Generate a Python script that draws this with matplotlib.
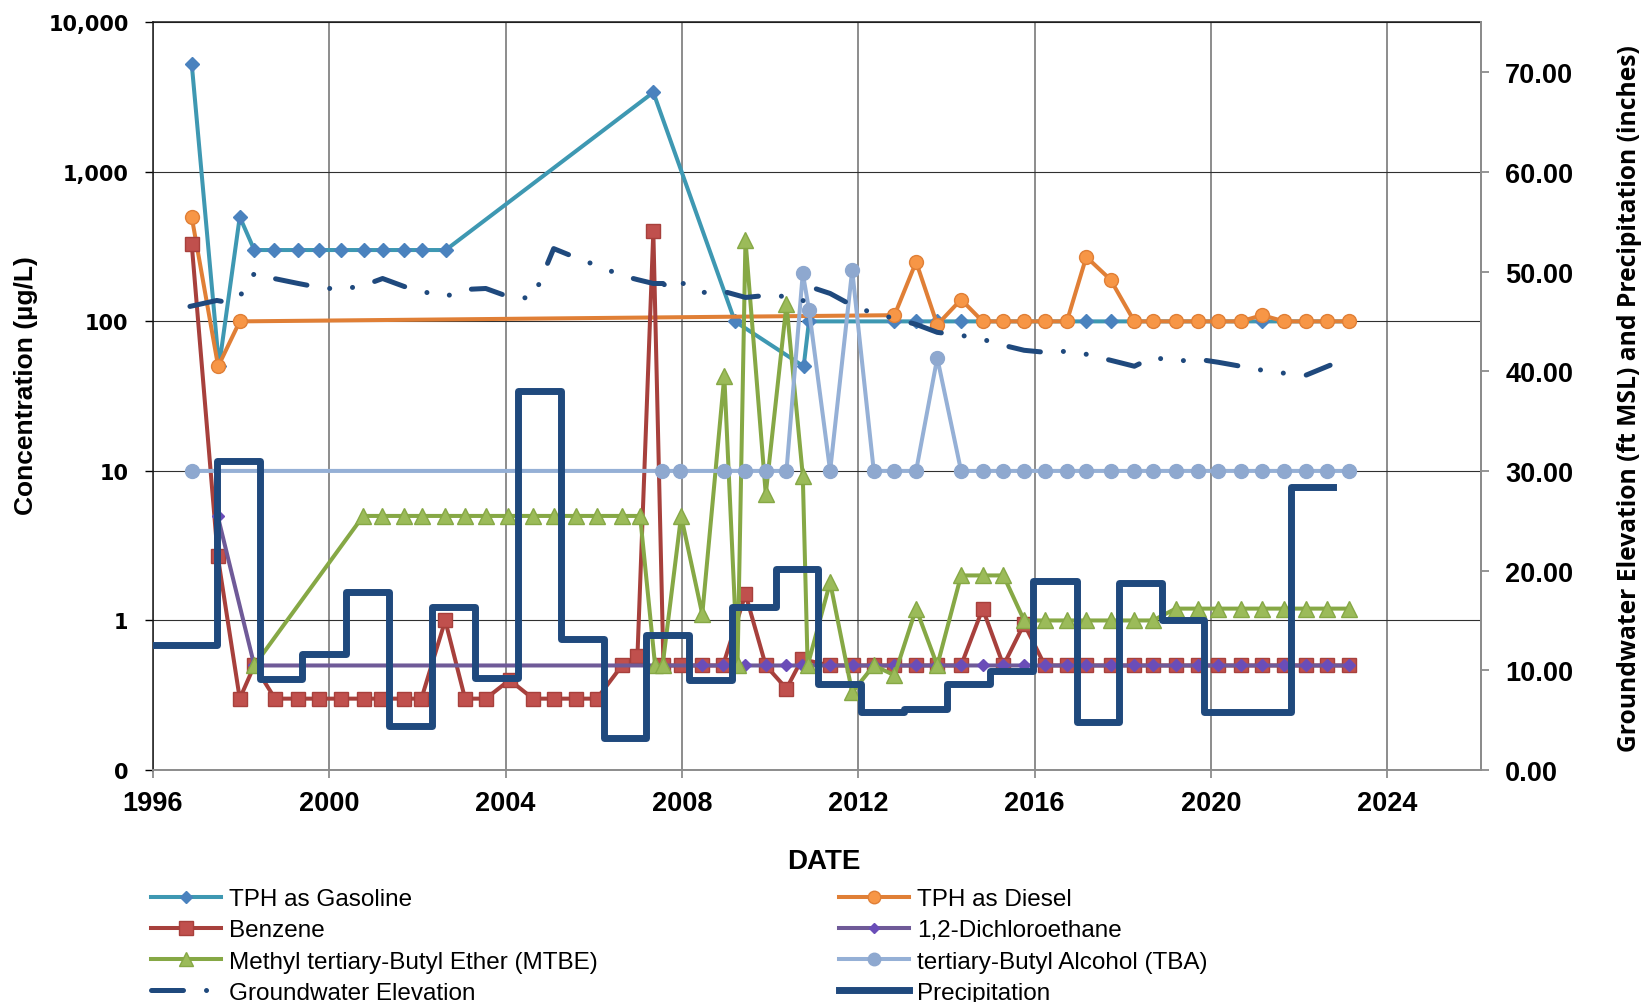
import matplotlib
matplotlib.use("Agg")
import matplotlib.pyplot as plt
from matplotlib.ticker import NullLocator

# ---------------- data ----------------
late_years = [2012.82, 2013.31, 2013.79, 2014.33, 2014.82, 2015.29, 2015.76, 2016.23,
              2016.73, 2017.17, 2017.72, 2018.26, 2018.68, 2019.20, 2019.71, 2020.16,
              2020.67, 2021.16, 2021.66, 2022.15, 2022.63, 2023.13]

gas_years = [1996.88, 1997.50, 1997.97, 1998.30, 1998.75, 1999.30, 1999.77, 2000.26,
             2000.78, 2001.21, 2001.70, 2002.10, 2002.64, 2007.35, 2009.20, 2010.76,
             2010.88] + late_years
gas_vals = [5300, 50, 500, 300, 300, 300, 300, 300, 300, 300, 300, 300, 300, 3400, 100, 50,
            100] + [100] * 22

diesel_years = [1996.88, 1997.48, 1997.97] + late_years
diesel_vals = [500, 50, 100, 110, 250, 95, 140, 100, 100, 100, 100, 100, 270, 190, 100, 100,
               100, 100, 100, 100, 110, 100, 100, 100, 100]

benz_years = [1996.88, 1997.47, 1997.97, 1998.30, 1998.77, 1999.30, 1999.77, 2000.26,
              2000.78, 2001.18, 2001.70, 2002.09, 2002.63, 2003.08, 2003.55, 2004.09,
              2004.62, 2005.09, 2005.59, 2006.07, 2006.64, 2006.99, 2007.35, 2007.58,
              2007.98, 2008.46, 2008.93, 2009.44, 2009.90, 2010.37, 2010.72, 2011.36,
              2011.89, 2012.35] + late_years
benz_vals = [330, 2.7, 0.3, 0.5, 0.3, 0.3, 0.3, 0.3, 0.3, 0.3, 0.3, 0.3, 1.0, 0.3, 0.3, 0.4,
             0.3, 0.3, 0.3, 0.3, 0.5, 0.58, 400, 0.5, 0.5, 0.5, 0.5, 1.5, 0.5, 0.35, 0.55, 0.5,
             0.5, 0.5, 0.5, 0.5, 0.5, 0.5, 1.2, 0.5, 0.95, 0.5, 0.5, 0.5, 0.5, 0.5, 0.5, 0.5,
             0.5, 0.5, 0.5, 0.5, 0.5, 0.5, 0.5, 0.5]

dca_years = [1997.47, 1998.30, 2008.46, 2008.93, 2009.44, 2009.90, 2010.37, 2010.72,
             2011.36, 2011.89, 2012.35] + late_years
dca_vals = [5.0] + [0.5] * 32

mtbe_years = [1998.30, 2000.77, 2001.20, 2001.70, 2002.10, 2002.63, 2003.08, 2003.55,
              2004.05, 2004.62, 2005.09, 2005.59, 2006.07, 2006.64, 2007.05, 2007.39,
              2007.56, 2007.98, 2008.46, 2008.96, 2009.26, 2009.44, 2009.90, 2010.37,
              2010.74, 2010.85, 2011.36, 2011.86, 2012.35] + late_years
mtbe_vals = ([0.5, 5, 5, 5, 5, 5, 5, 5, 5, 5, 5, 5, 5, 5, 5, 0.5, 0.5, 5, 1.1, 43, 0.5, 350,
              7.0, 130, 9.3, 0.5, 1.8, 0.33, 0.5]
             + [0.43, 1.2, 0.5, 2.0, 2.0, 2.0]
             + [1.0, 1.0, 1.0, 1.0, 1.0, 1.0, 1.0]
             + [1.2, 1.2, 1.2, 1.2, 1.2, 1.2, 1.2, 1.2, 1.2])

tba_years = [1996.88, 2007.55, 2007.95, 2008.95, 2009.44, 2009.90, 2010.37, 2010.74,
             2010.88, 2011.36, 2011.86, 2012.35] + late_years
tba_vals = [10, 10, 10, 10, 10, 10, 10, 210, 120, 10, 220, 10,
            10, 10, 57, 10, 10, 10, 10, 10, 10, 10, 10, 10, 10, 10, 10, 10, 10, 10, 10, 10,
            10, 10]

gw_years = [1996.84, 1997.45, 1997.69, 1997.97, 1998.30, 1998.75, 1999.30, 1999.77, 2000.26,
            2000.78, 2001.21, 2001.70, 2002.10, 2002.64, 2003.08, 2003.55, 2004.05, 2004.62,
            2005.09, 2005.59, 2006.07, 2006.64, 2006.98, 2007.35, 2007.57, 2007.72, 2007.98,
            2008.46, 2008.95, 2009.44, 2009.90, 2010.37, 2010.74, 2010.88, 2011.36, 2011.86,
            2012.35, 2012.82, 2013.31, 2013.79, 2014.33, 2014.82, 2015.29, 2015.76, 2016.23,
            2016.73, 2017.17, 2017.72, 2018.26, 2018.68, 2019.20, 2019.71, 2020.16, 2020.67,
            2021.16, 2021.66, 2022.15, 2022.70]
gw_vals = [46.5, 47.1, 46.9, 47.5, 49.8, 49.3, 48.8, 48.4, 48.2,
           48.6, 49.3, 48.5, 48.0, 47.5, 48.2, 48.3, 47.5, 47.3,
           52.3, 51.4, 50.6, 49.6, 49.2, 48.8, 48.8, 48.2, 48.9,
           47.9, 48.0, 47.4, 47.6, 47.5, 47.0, 48.5, 47.8, 46.6,
           45.8, 45.3, 44.7, 43.9, 43.6, 43.2, 42.6, 42.1, 41.9,
           42.0, 41.7, 41.1, 40.5, 41.4, 41.0, 41.2, 40.9, 40.5,
           40.1, 39.8, 39.6, 40.6]

precip_starts = [1995.50, 1997.449, 1998.419, 1999.392, 2000.388, 2001.351, 2002.324,
                 2003.295, 2004.277, 2005.247, 2006.220, 2007.190, 2008.163, 2009.134,
                 2010.122, 2011.095, 2012.066, 2013.039, 2014.009, 2014.982, 2015.955,
                 2016.950, 2017.916, 2018.898, 2019.846, 2020.823, 2021.803]
precip_end = 2022.767
precip_vals = [12.5, 31.0, 9.1, 11.6, 17.9, 4.4, 16.4, 9.2, 38.0, 13.1, 3.2, 13.5, 9.0, 16.4,
               20.2, 8.6, 5.8, 6.1, 8.6, 9.9, 19.0, 4.8, 18.8, 15.0, 5.8, 5.8, 28.4]

x_ticks = [1996, 2000, 2004, 2008, 2012, 2016, 2020, 2024]
left_ticks = [0.1, 1, 10, 100, 1000, 10000]
left_labels = ["0", "1", "10", "100", "1,000", "10,000"]
right_ticks = [0, 10, 20, 30, 40, 50, 60, 70]
right_labels = ["%.2f" % v for v in right_ticks]

# ---------------- figure ----------------
plt.rcParams['font.family'] = ['Liberation Sans', 'DejaVu Sans']

W, H = 1646, 1003
fig = plt.figure(figsize=(W / 100, H / 100), dpi=100)
L, R, T, B = 152.9, 1480.9, 23.3, 771.0
ax = fig.add_axes([L / W, 1 - B / H, (R - L) / W, (B - T) / H])
ax.set_yscale('log')
ax.set_xlim(1996, 2026.12)
ax.set_ylim(0.1, 10000)

ax.set_xticks(x_ticks, labels=[str(v) for v in x_ticks], fontweight='bold', fontsize=19.5)
ax.set_yticks(left_ticks, labels=left_labels, fontweight='bold', fontsize=15,
              family=['DejaVu Sans'])
ax.yaxis.set_minor_locator(NullLocator())
ax.xaxis.set_minor_locator(NullLocator())
ax.xaxis.grid(True, color='#8c8c8c', lw=1.4)
ax.yaxis.grid(True, color='#303030', lw=0.8)
ax.tick_params(axis='y', direction='out', length=5.5, width=1, color='black', pad=12)
ax.tick_params(axis='x', direction='out', length=5.5, width=1.3, color='#8c8c8c', pad=9)

for s in ['left', 'top']:
    ax.spines[s].set_color('#1a1a1a')
    ax.spines[s].set_linewidth(1.1)
for s in ['right', 'bottom']:
    ax.spines[s].set_color('#8c8c8c')
    ax.spines[s].set_linewidth(1.4)

lw = 2.9
h_gas, = ax.plot(gas_years, gas_vals, color='#3E98B2', lw=lw, marker='D', ms=6.8,
                 mfc='#4A82BE', mec='#4A82BE', label='TPH as Gasoline')
h_die, = ax.plot(diesel_years, diesel_vals, color='#E07F36', lw=lw, marker='o', ms=10,
                 mfc='#F79646', mec='#E07F36', mew=1, label='TPH as Diesel')
h_ben, = ax.plot(benz_years, benz_vals, color='#A7403C', lw=lw, marker='s', ms=10.5,
                 mfc='#C0504D', mec='#A7403C', mew=1, label='Benzene')
h_dca, = ax.plot(dca_years, dca_vals, color='#6F5A98', lw=lw, marker='D', ms=6,
                 mfc='#6A4DB8', mec='#6A4DB8', label='1,2-Dichloroethane')
h_mtb, = ax.plot(mtbe_years, mtbe_vals, color='#86A845', lw=lw, marker='^', ms=11.5,
                 mfc='#9BBB59', mec='#86A845', mew=1, label='Methyl tertiary-Butyl Ether (MTBE)')
h_tba, = ax.plot(tba_years, tba_vals, color='#95B0D6', lw=lw, marker='o', ms=10,
                 mfc='#8EA8CF', mec='#8EA8CF', label='tertiary-Butyl Alcohol (TBA)')

ax2 = ax.twinx()
ax2.set_ylim(0, 75)
ax2.set_xlim(1996, 2026.12)
ax2.set_yticks(right_ticks, labels=right_labels, fontweight='bold', fontsize=19.5)
ax2.yaxis.set_minor_locator(NullLocator())
ax2.tick_params(axis='y', direction='out', length=5.5, width=1.3, color='#8c8c8c',
                labelcolor='black', pad=12)
for s in ['left', 'top', 'bottom']:
    ax2.spines[s].set_visible(False)
ax2.spines['right'].set_color('#8c8c8c')
ax2.spines['right'].set_linewidth(1.4)

gw_lw = 3.6
h_gw, = ax2.plot(gw_years, gw_vals, color='#1F497D', lw=gw_lw,
                 linestyle=(0, (6.4, 4.6, 0.01, 4.6, 0.01, 4.6)),
                 dash_capstyle='round', solid_capstyle='round', label='Groundwater Elevation')
h_pr, = ax2.step(precip_starts + [precip_end], precip_vals + [precip_vals[-1]], where='post',
                 color='#1F497D', lw=5.0, label='Precipitation')

# ---------------- labels ----------------
fig.text(824 / W, 1 - 862 / H, 'DATE', fontsize=20, fontweight='bold', ha='center', va='center')
fig.text(26 / W, 1 - 386 / H, 'Concentration (\u00b5g/L)', fontsize=19, fontweight='bold',
         rotation=90, ha='center', va='center')
fig.text(1629 / W, 1 - 399 / H, 'Groundwater Elevation (ft MSL) and Precipitation (inches)',
         fontsize=17.7, fontweight='bold', rotation=90, ha='center', va='center',
         family=['Open Sans', 'DejaVu Sans'])

handles = [h_gas, h_ben, h_mtb, h_gw, h_die, h_dca, h_tba, h_pr]
fig.legend(handles=handles, labels=[h.get_label() for h in handles], ncol=2,
           loc='upper left', bbox_to_anchor=(151 / W, 1 - 889 / H), frameon=False,
           fontsize=17.5, handlelength=2.9, handletextpad=0.3, columnspacing=9.93,
           labelspacing=0.38, borderpad=0, borderaxespad=0, markerscale=0.9, numpoints=1)

fig.savefig('out.png', dpi=100)
